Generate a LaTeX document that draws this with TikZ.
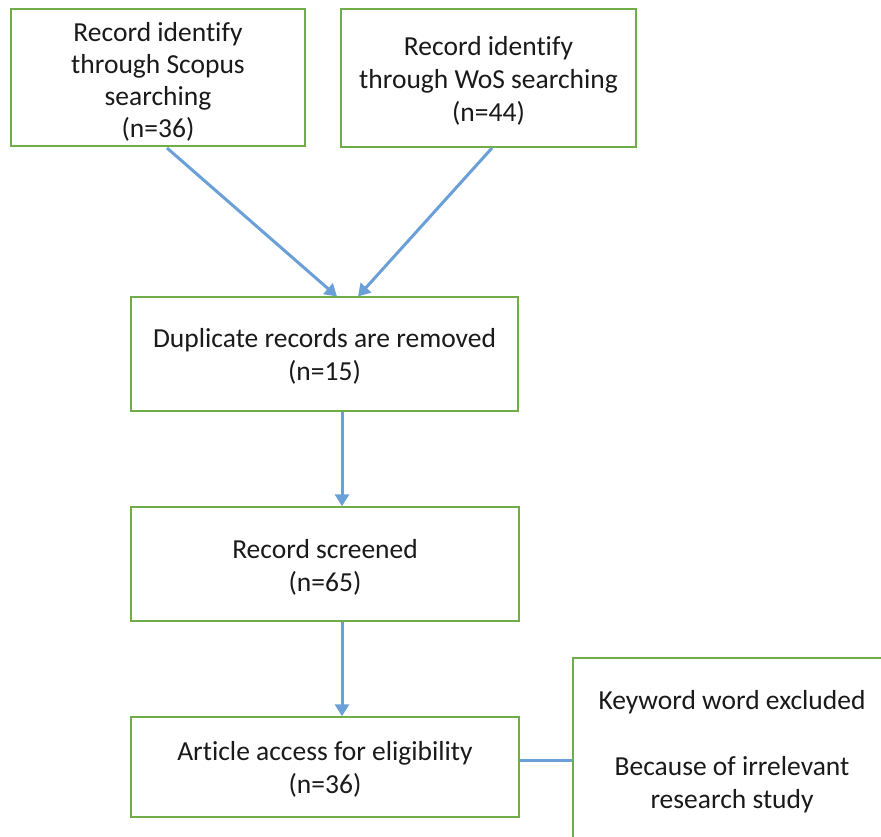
\documentclass[tikz,border=0pt]{standalone}
\usepackage{fontspec}
\setmainfont{Carlito}[Ligatures=NoCommon]
\usetikzlibrary{arrows.meta}
\definecolor{boxgreen}{HTML}{70AD47}
\definecolor{arrowblue}{HTML}{6A9FD8}
\definecolor{txt}{HTML}{1A1A1A}
\tikzset{
  flowbox/.style={draw=boxgreen, line width=1.5pt, fill=white, inner sep=0pt},
  flowtext/.style={align=center, inner sep=0pt, text=txt, font=\fontsize{27.5}{33}\selectfont},
  flowarrow/.style={draw=arrowblue, line width=3pt, -{Triangle[length=12pt,width=14pt]}},
  flowline/.style={draw=arrowblue, line width=3pt}
}
\begin{document}
\begin{tikzpicture}[x=1pt,y=-1pt]
\useasboundingbox (0,0) rectangle (881,837);
\clip (0,0) rectangle (881,837);
\node[flowbox, minimum width=294pt, minimum height=137pt] (scopus) at (158,77.5) {};
\node[flowbox, minimum width=295pt, minimum height=138pt] (wos) at (488.5,78) {};
\node[flowbox, minimum width=387pt, minimum height=114pt] (dup) at (324.5,354) {};
\node[flowbox, minimum width=388pt, minimum height=114pt] (screen) at (325,564) {};
\node[flowbox, minimum width=388pt, minimum height=100pt] (elig) at (325,767) {};
\node[flowbox, minimum width=318pt, minimum height=184pt] (excl) at (732,750) {};
\node[flowtext, font=\fontsize{27.5}{32}\selectfont] (scopust) at ([yshift=-4pt]scopus.center)
  {Record identify\\through Scopus\\searching\\(n=36)};
\node[flowtext] (wost) at ([yshift=-3pt]wos.center)
  {Record identify\\through WoS searching\\(n=44)};
\node[flowtext] (dupt) at ([yshift=-2pt]dup.center)
  {Duplicate records are removed\\(n=15)};
\node[flowtext] (screent) at ([yshift=-3pt]screen.center)
  {Record screened\\(n=65)};
\node[flowtext] (eligt) at ([yshift=-2.5pt]elig.center)
  {Article access for eligibility\\(n=36)};
\node[flowtext] (exclt) at ([yshift=-2pt]excl.center)
  {Keyword word excluded\\[33pt]Because of irrelevant\\research study};
\coordinate (s1) at (167,148);
\coordinate (s2) at (337,296.5);
\coordinate (w1) at (492,148);
\coordinate (w2) at (358,296.5);
\coordinate (vx) at (342,0);
\coordinate (hy) at (0,760);
\draw[flowarrow] (s1) -- (s2);
\draw[flowarrow] (w1) -- (w2);
\draw[flowarrow] (dup.south -| vx) -- (screen.north -| vx);
\draw[flowarrow] (screen.south -| vx) -- (elig.north -| vx);
\draw[flowline] (elig.east |- hy) -- (excl.west |- hy);
\end{tikzpicture}
\end{document}
